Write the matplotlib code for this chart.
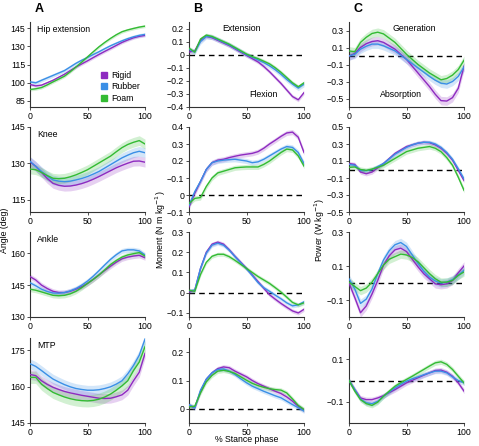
import numpy as np
import matplotlib.pyplot as plt

plt.rcParams['font.family'] = ['Liberation Sans', 'DejaVu Sans']

# % stance phase sample points
t = np.arange(0, 101, 5)

conds = ['Rigid', 'Rubber', 'Foam']
cols = ['#8E2BC0', '#3A8FE6', '#33BB33']

# ---- hip ----
hip_ang_rigid = [98.5, 97.4, 98, 100, 102, 104.5, 107, 110, 113, 115.5, 118, 120.7, 123.3, 125.8, 128.2, 130.7, 133.2, 135.2, 137, 138.2, 139]
hip_ang_rubber = [100.7, 99.9, 102, 104, 106, 108, 110, 113, 116, 118.5, 120.8, 123.2, 125.5, 128, 130.4, 132.5, 134.5, 136.3, 137.8, 139, 139.8]
hip_ang_foam = [94.4, 95, 96, 98.2, 100.7, 103, 105.4, 109, 113, 117, 121.3, 125.5, 129.6, 133.2, 136.5, 139.5, 142, 143.5, 144.7, 145.8, 146.6]

hip_mom_rigid = [0.02, 0.03, 0.11, 0.14, 0.13, 0.11, 0.09, 0.07, 0.045, 0.02, -0.005, -0.03, -0.055, -0.09, -0.13, -0.175, -0.22, -0.27, -0.32, -0.345, -0.29]
hip_mom_rubber = [0.04, 0.02, 0.1, 0.14, 0.135, 0.115, 0.095, 0.075, 0.05, 0.025, 0.0, -0.02, -0.04, -0.06, -0.085, -0.115, -0.15, -0.19, -0.225, -0.255, -0.225]
hip_mom_foam = [0.05, 0.02, 0.12, 0.15, 0.14, 0.12, 0.1, 0.08, 0.055, 0.03, 0.005, -0.015, -0.03, -0.05, -0.07, -0.1, -0.135, -0.175, -0.215, -0.245, -0.215]

hip_pow_rigid = [0, 0.03, 0.1, 0.145, 0.17, 0.18, 0.16, 0.12, 0.08, 0.02, -0.04, -0.12, -0.2, -0.28, -0.36, -0.45, -0.525, -0.53, -0.49, -0.38, -0.12]
hip_pow_rubber = [0, 0.02, 0.08, 0.115, 0.14, 0.14, 0.12, 0.09, 0.06, 0.01, -0.04, -0.09, -0.14, -0.19, -0.24, -0.285, -0.32, -0.33, -0.3, -0.24, -0.13]
hip_pow_foam = [0.06, 0.05, 0.16, 0.22, 0.265, 0.28, 0.26, 0.21, 0.16, 0.09, 0.02, -0.04, -0.1, -0.15, -0.2, -0.24, -0.28, -0.265, -0.225, -0.16, -0.05]

# ---- knee ----
knee_ang_rigid = [130.6, 128.8, 126.3, 123.8, 121.8, 121, 120.6, 120.7, 121.1, 121.7, 122.5, 123.5, 124.6, 125.8, 127, 128.2, 129.2, 130.1, 130.9, 131, 130.5]
knee_ang_rubber = [130.9, 128.8, 126.7, 124.8, 123.2, 122.7, 122.5, 122.7, 123.2, 123.8, 124.6, 125.6, 126.7, 128.1, 129.5, 130.9, 132.3, 133.4, 134.4, 135, 134.4]
knee_ang_foam = [127.7, 127.4, 126.3, 125, 123.9, 123.7, 123.9, 124.5, 125.3, 126.3, 127.4, 128.8, 130.2, 131.6, 133, 134.8, 136.5, 137.8, 138.7, 139.4, 138]

knee_mom_rigid = [-0.07, 0.01, 0.08, 0.15, 0.19, 0.205, 0.21, 0.22, 0.228, 0.235, 0.24, 0.245, 0.255, 0.275, 0.3, 0.322, 0.345, 0.365, 0.37, 0.34, 0.25]
knee_mom_rubber = [-0.06, 0.02, 0.08, 0.15, 0.19, 0.2, 0.205, 0.208, 0.21, 0.205, 0.2, 0.19, 0.195, 0.21, 0.23, 0.25, 0.27, 0.285, 0.28, 0.25, 0.185]
knee_mom_foam = [-0.05, -0.02, -0.015, 0.05, 0.1, 0.13, 0.14, 0.15, 0.16, 0.163, 0.165, 0.165, 0.165, 0.18, 0.2, 0.225, 0.25, 0.27, 0.265, 0.23, 0.17]

knee_pow_rigid = [0.07, 0.06, -0.03, -0.05, -0.03, 0.02, 0.07, 0.13, 0.19, 0.23, 0.27, 0.29, 0.31, 0.32, 0.315, 0.29, 0.25, 0.19, 0.11, -0.01, -0.13]
knee_pow_rubber = [0.06, 0.05, -0.01, -0.015, 0, 0.035, 0.07, 0.125, 0.18, 0.22, 0.26, 0.29, 0.31, 0.32, 0.32, 0.3, 0.26, 0.2, 0.12, 0.01, -0.11]
knee_pow_foam = [0.025, 0.03, 0, -0.01, 0.005, 0.025, 0.05, 0.09, 0.13, 0.17, 0.21, 0.23, 0.25, 0.26, 0.27, 0.25, 0.21, 0.14, 0.05, -0.09, -0.245]

# ---- ankle ----
ank_ang_rigid = [149, 147.4, 145, 143.4, 142.1, 141.5, 141.5, 142.1, 143.1, 144.3, 145.8, 147.7, 149.8, 151.9, 153.9, 155.8, 157.4, 158.2, 158.7, 159, 157.9]
ank_ang_rubber = [146.1, 144.7, 143.1, 142, 141.3, 141.2, 141.5, 142.3, 143.4, 145, 146.9, 149.2, 151.8, 154.5, 157.1, 159.3, 161.1, 161.6, 161.6, 161.1, 159.2]
ank_ang_foam = [143.1, 142.6, 141.8, 141, 140.2, 140, 140.2, 140.9, 142.1, 143.8, 145.8, 147.7, 149.8, 152.2, 154.7, 156.6, 158.2, 159.2, 159.8, 160.3, 158.7]

ank_mom_rigid = [0.003, 0.012, 0.12, 0.2, 0.24, 0.25, 0.24, 0.212, 0.18, 0.15, 0.12, 0.088, 0.055, 0.022, -0.01, -0.032, -0.053, -0.072, -0.09, -0.1, -0.082]
ank_mom_rubber = [0.01, 0.012, 0.12, 0.195, 0.235, 0.245, 0.235, 0.21, 0.178, 0.148, 0.118, 0.085, 0.05, 0.025, 0.007, -0.012, -0.03, -0.05, -0.065, -0.06, -0.045]
ank_mom_foam = [0.012, 0.007, 0.09, 0.15, 0.18, 0.19, 0.19, 0.178, 0.16, 0.14, 0.12, 0.1, 0.08, 0.063, 0.046, 0.025, 0.003, -0.022, -0.048, -0.06, -0.05]

ank_pow_rigid = [0, -0.085, -0.175, -0.135, -0.065, 0.015, 0.105, 0.16, 0.195, 0.205, 0.185, 0.14, 0.095, 0.055, 0.025, -0.005, -0.01, -0.005, 0.015, 0.06, 0.1]
ank_pow_rubber = [0.025, -0.035, -0.12, -0.095, -0.035, 0.055, 0.135, 0.19, 0.225, 0.238, 0.215, 0.165, 0.115, 0.07, 0.035, 0.012, 0, 0.005, 0.02, 0.045, 0.075]
ank_pow_foam = [0.005, -0.02, -0.045, -0.03, 0.005, 0.055, 0.105, 0.14, 0.155, 0.17, 0.165, 0.15, 0.125, 0.09, 0.055, 0.025, 0.005, 0.005, 0.015, 0.045, 0.065]

# ---- MTP ----
mtp_ang_rigid = [165, 164.5, 162.4, 160.9, 159.7, 158.8, 158, 157.4, 156.9, 156.4, 156, 155.6, 155.2, 155.1, 155.2, 155.8, 156.6, 158.5, 162.4, 165.9, 173.6]
mtp_ang_rubber = [169.4, 168.3, 166.6, 164.8, 163.1, 161.9, 160.8, 159.9, 159.2, 158.8, 158.5, 158.5, 158.7, 159.2, 159.9, 161, 162.4, 165.2, 168.7, 172.9, 179.5]
mtp_ang_foam = [163.8, 163.8, 161, 159.2, 157.6, 156.6, 155.7, 155, 154.5, 154.2, 154.1, 154.3, 154.8, 155.7, 156.9, 158.5, 160.3, 162.4, 166.6, 170.1, 176.4]

mtp_mom_rigid = [0.012, 0.004, 0.062, 0.104, 0.127, 0.142, 0.148, 0.145, 0.133, 0.123, 0.113, 0.1, 0.089, 0.08, 0.071, 0.062, 0.054, 0.042, 0.027, 0.009, -0.005]
mtp_mom_rubber = [0.015, 0.003, 0.066, 0.105, 0.127, 0.139, 0.141, 0.133, 0.121, 0.106, 0.092, 0.08, 0.071, 0.062, 0.054, 0.046, 0.039, 0.027, 0.015, 0.004, -0.008]
mtp_mom_foam = [0.007, 0.009, 0.056, 0.095, 0.118, 0.133, 0.136, 0.132, 0.125, 0.113, 0.101, 0.09, 0.082, 0.076, 0.071, 0.068, 0.066, 0.056, 0.035, 0.012, -0.002]

mtp_pow_rigid = [0, -0.043, -0.082, -0.09, -0.09, -0.082, -0.071, -0.057, -0.043, -0.027, -0.011, 0.001, 0.013, 0.025, 0.036, 0.047, 0.049, 0.039, 0.02, -0.011, -0.05]
mtp_pow_rubber = [0, -0.043, -0.087, -0.105, -0.109, -0.098, -0.074, -0.054, -0.035, -0.018, -0.003, 0.008, 0.017, 0.027, 0.036, 0.044, 0.044, 0.036, 0.017, 0, -0.011]
mtp_pow_foam = [0, -0.05, -0.09, -0.109, -0.117, -0.102, -0.074, -0.05, -0.027, -0.01, 0.005, 0.02, 0.036, 0.052, 0.068, 0.083, 0.088, 0.076, 0.052, 0.02, -0.011]

# standard deviation band half-widths (rigid, rubber, foam)
sd_hip = ([1.2, 1.5, 1.2], [0.015, 0.02, 0.015], [0.05, 0.05, 0.05])
sd_knee = ([2, 2, 2], [0.015, 0.015, 0.015], [0.025, 0.025, 0.03])
sd_ank = ([1.2, 1.2, 1.2], [0.01, 0.01, 0.01], [0.025, 0.025, 0.025])
sd_mtp = ([2, 2, 2.5], [0.008, 0.008, 0.008], [0.012, 0.012, 0.012])

joint_names = ['Hip extension', 'Knee', 'Ankle', 'MTP']

rows = [
    ([hip_ang_rigid, hip_ang_rubber, hip_ang_foam], [hip_mom_rigid, hip_mom_rubber, hip_mom_foam], [hip_pow_rigid, hip_pow_rubber, hip_pow_foam], sd_hip),
    ([knee_ang_rigid, knee_ang_rubber, knee_ang_foam], [knee_mom_rigid, knee_mom_rubber, knee_mom_foam], [knee_pow_rigid, knee_pow_rubber, knee_pow_foam], sd_knee),
    ([ank_ang_rigid, ank_ang_rubber, ank_ang_foam], [ank_mom_rigid, ank_mom_rubber, ank_mom_foam], [ank_pow_rigid, ank_pow_rubber, ank_pow_foam], sd_ank),
    ([mtp_ang_rigid, mtp_ang_rubber, mtp_ang_foam], [mtp_mom_rigid, mtp_mom_rubber, mtp_mom_foam], [mtp_pow_rigid, mtp_pow_rubber, mtp_pow_foam], sd_mtp),
]

# axis limits and ticks per row, per column (angle, moment, power)
ylims = [
    [(80, 150), (-0.4, 0.25), (-0.6, 0.4)],
    [(110, 145), (-0.1, 0.4), (-0.5, 0.5)],
    [(130, 170), (-0.12, 0.3), (-0.2, 0.3)],
    [(145, 180), (-0.05, 0.25), (-0.2, 0.2)],
]
yticks = [
    [[85, 100, 115, 130, 145], [-0.4, -0.3, -0.2, -0.1, 0, 0.1, 0.2], [-0.5, -0.3, -0.1, 0.1, 0.3]],
    [[115, 130, 145], [-0.1, 0, 0.1, 0.2, 0.3, 0.4], [-0.5, -0.3, -0.1, 0.1, 0.3, 0.5]],
    [[130, 145, 160], [-0.1, 0, 0.1, 0.2, 0.3], [-0.1, 0.1, 0.3]],
    [[145, 160, 175], [0, 0.1, 0.2], [-0.1, 0.1]],
]
yticklabels = [
    [['85', '100', '115', '130', '145'], ['\u22120.4', '\u22120.3', '\u22120.2', '\u22120.1', '0', '0.1', '0.2'], ['\u22120.5', '\u22120.3', '\u22120.1', '0.1', '0.3']],
    [['115', '130', '145'], ['\u22120.1', '0', '\u22120.1', '0.2', '0.3', '0.4'], ['\u22120.5', '\u22120.3', '\u22120.1', '0.1', '0.3', '0.5']],
    [['130', '145', '160'], ['\u22120.1', '0', '0.1', '0.2', '0.3'], ['\u22120.1', '0.1', '0.3']],
    [['145', '160', '175'], ['0', '0.1', '0.2'], ['\u22120.1', '0.1']],
]

W, H = 479, 446
fig = plt.figure(figsize=(W / 100, H / 100), dpi=100)

col_left = [30, 189, 349]
ax_w = 115
row_top = [22, 127, 232, 338]
ax_h = 85

fs = 6.3
for r in range(4):
    for c in range(3):
        ax = fig.add_axes([col_left[c] / W, 1 - (row_top[r] + ax_h) / H, ax_w / W, ax_h / H])
        series = rows[r][c]
        sds = rows[r][3][c]
        if c > 0:
            ax.plot([0, 100], [0, 0], color='black', linestyle=(0, (4, 3)), linewidth=1.0, zorder=1)
        for k in range(3):
            y = np.array(series[k])
            ax.fill_between(t, y - sds[k], y + sds[k], color=cols[k], alpha=0.22, linewidth=0, zorder=2)
        for k in range(3):
            ax.plot(t, series[k], color=cols[k], linewidth=1.0, zorder=3, label=conds[k])
        ax.set_xlim(0, 100)
        ax.set_ylim(*ylims[r][c])
        ax.set_xticks([0, 50, 100])
        ax.set_yticks(yticks[r][c])
        ax.set_yticklabels(yticklabels[r][c])
        ax.spines['top'].set_visible(False)
        ax.spines['right'].set_visible(False)
        for s in ['left', 'bottom']:
            ax.spines[s].set_linewidth(0.8)
            ax.spines[s].set_color('#333333')
        ax.tick_params(labelsize=fs, length=2, width=0.6, pad=1.5, colors='#333333', labelcolor='black')
        if c == 0:
            ax.text(0.06, 0.96, joint_names[r], transform=ax.transAxes, fontsize=fs, va='top', ha='left')
        if r == 0 and c == 0:
            ax.legend(loc='lower right', fontsize=fs, frameon=False, handlelength=0.7,
                      handletextpad=0.5, labelspacing=0.25, borderaxespad=0.1,
                      handles=[plt.Line2D([], [], marker='s', linestyle='', color=cols[k], markersize=4.5)
                               for k in range(3)], labels=conds)
        if r == 0 and c == 1:
            ax.text(0.29, 0.92, 'Extension', transform=ax.transAxes, fontsize=fs, va='center')
            ax.text(0.52, 0.15, 'Flexion', transform=ax.transAxes, fontsize=fs, va='center')
        if r == 0 and c == 2:
            ax.text(0.38, 0.92, 'Generation', transform=ax.transAxes, fontsize=fs, va='center')
            ax.text(0.27, 0.15, 'Absorption', transform=ax.transAxes, fontsize=fs, va='center')

# panel letters
for x, s in zip([35, 193, 353], ['A', 'B', 'C']):
    fig.text(x / W, 1 - 9 / H, s, fontsize=9, fontweight='bold', va='center')

fig.text(5 / W, 1 - 230 / H, 'Angle (deg)', rotation=90, fontsize=fs, va='center', ha='center')
fig.text(161 / W, 1 - 230 / H, 'Moment (N m kg$^{-1}$)', rotation=90, fontsize=fs, va='center', ha='center')
fig.text(320 / W, 1 - 230 / H, 'Power (W kg$^{-1}$)', rotation=90, fontsize=fs, va='center', ha='center')
fig.text(247 / W, 1 - 440 / H, '% Stance phase', fontsize=fs, va='center', ha='center')

fig.savefig('out.png', dpi=100)
